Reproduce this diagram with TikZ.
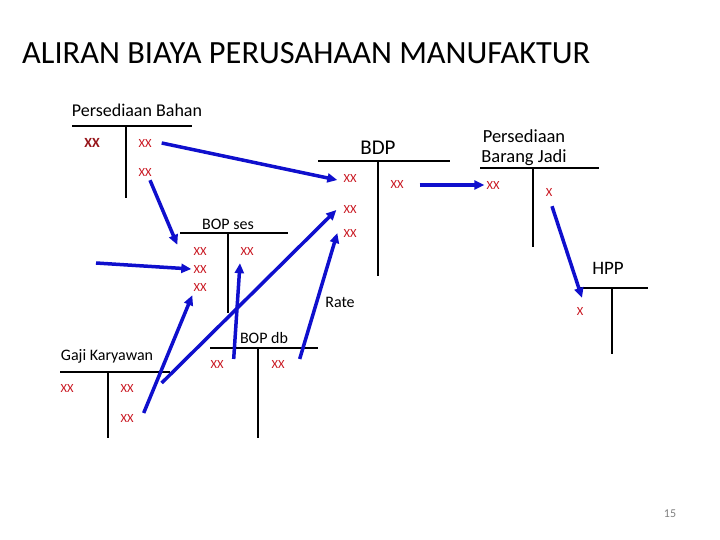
\documentclass[tikz,border=0pt]{standalone}
\usepackage{fontspec}
\setmainfont{Carlito}
\usepackage{tikz}
\usetikzlibrary{arrows.meta}
\definecolor{xxred}{RGB}{200,20,30}
\definecolor{darkxx}{RGB}{150,20,25}
\definecolor{arrblue}{RGB}{15,15,205}

\begin{document}
\begin{tikzpicture}[x=1pt, y=-1pt, xx/.style={inner sep=2pt, text=xxred, font=\fontsize{12.5}{13}\selectfont}, big/.style={inner sep=2pt, text=darkxx, font=\fontsize{14}{15}\selectfont\bfseries}, lbl/.style={inner sep=0pt, font=\fontsize{16}{17}\selectfont}, head/.style={inner sep=0pt, font=\fontsize{18.5}{17}\selectfont}, acc/.style={line width=2.2pt}, arr/.style={-{Triangle[length=10pt,width=9pt]}, line width=3.5pt, arrblue}]
                \useasboundingbox (0,0) rectangle (720,540);
                % title
                \node[inner sep=0pt, anchor=west, font=\fontsize{32.4}{36}\selectfont] (title) at (22,53) {ALIRAN BIAYA PERUSAHAAN MANUFAKTUR};
                % accounts
                \node[lbl, font=\fontsize{18}{19}\selectfont] (pb) at (137,110) {Persediaan Bahan};
                \node[head, font=\fontsize{21}{22}\selectfont] (bdp) at (378,148) {BDP};
                \node[head, anchor=base] (pbj1) at (524,143) {Persediaan};
                \node[head, anchor=base] (pbj2) at (524,162.5) {Barang Jadi};
                \node[head, font=\fontsize{19}{20}\selectfont] (hpp) at (608,268) {HPP};
                \node[lbl] (bopses) at (228,224) {BOP ses};
                \node[lbl] (bopdb) at (264,338) {BOP db};
                \node[lbl] (gk) at (107,356) {Gaji Karyawan};
                \node[lbl] (rate) at (340,302) {Rate};
                \draw[acc] (72,126) -- (192,126) (126,126) -- (126,198);
                \draw[acc] (318,161) -- (450,161) (378,161) -- (378,276);
                \draw[acc] (480,168) -- (599,168) (533,168) -- (533,247);
                \draw[acc] (580,288) -- (648,288) (612,288) -- (612,354);
                \draw[acc] (180,233) -- (288,233) (228,233) -- (228,313);
                \draw[acc] (60,372) -- (170,372) (108,372) -- (108,438);
                \draw[acc] (210,348) -- (318,348) (258,348) -- (258,438);
                % amounts
                \node[big] (pb0) at (92,143) {XX};
                \node[xx] (pbA) at (145,143) {XX};
                \node[xx] (pbB) at (145,172) {XX};
                \node[xx] (bdpA) at (350,178) {XX};
                \node[xx] (bdpB) at (350,209) {XX};
                \node[xx] (bdpC) at (350,233) {XX};
                \node[xx] (bdpD) at (397,184) {XX};
                \node[xx] (pbjA) at (493,185) {XX};
                \node[xx] (pbjB) at (549,192) {X};
                \node[xx] (hppA) at (580,311) {X};
                \node[xx] (bopA) at (200,251) {XX};
                \node[xx] (bopB) at (200,269) {XX};
                \node[xx] (bopC) at (200,287) {XX};
                \node[xx] (bopD) at (247,251) {XX};
                \node[xx] (gk0) at (67,388) {XX};
                \node[xx] (gkA) at (127,388) {XX};
                \node[xx] (gkB) at (127,418) {XX};
                \node[xx] (bdbA) at (217,364) {XX};
                \node[xx] (bdbB) at (278,364) {XX};
                \node[inner sep=0pt, text=gray, font=\fontsize{12}{13}\selectfont] (page) at (670,514) {15};
                \coordinate (upah) at (96,263);
                % edges
                \draw[arr] ([shift={(8,0)}]pbA.east) -- ([shift={(-4,2)}]bdpA.west);
                \draw[arr] ([shift={(5,2)}]pbB.south) -- ([shift={(-14,0)}]bopA.north west);
                \draw[arr] (upah) -- (bopB.west);
                \draw[arr] ([shift={(8,-5)}]gkB.east) -- ([shift={(1,2)}]bopC.south west);
                \draw[arr] ([shift={(26,-5)}]gkA.east) -- ([shift={(-5,1)}]bdpB.west);
                \draw[arr] ([shift={(8,-5)}]bdbA.east) -- ([shift={(-7,6)}]bopD.south);
                \draw[arr] ([shift={(13,-5)}]bdbB.east) -- ([shift={(-4,0)}]bdpC.west);
                \draw[arr] ([shift={(14,1)}]bdpD.east) -- (pbjA.west);
                \draw[arr] ([shift={(3,8)}]pbjB.south) -- ([shift={(2,-7)}]hppA.north);
            \end{tikzpicture}
\end{document}
